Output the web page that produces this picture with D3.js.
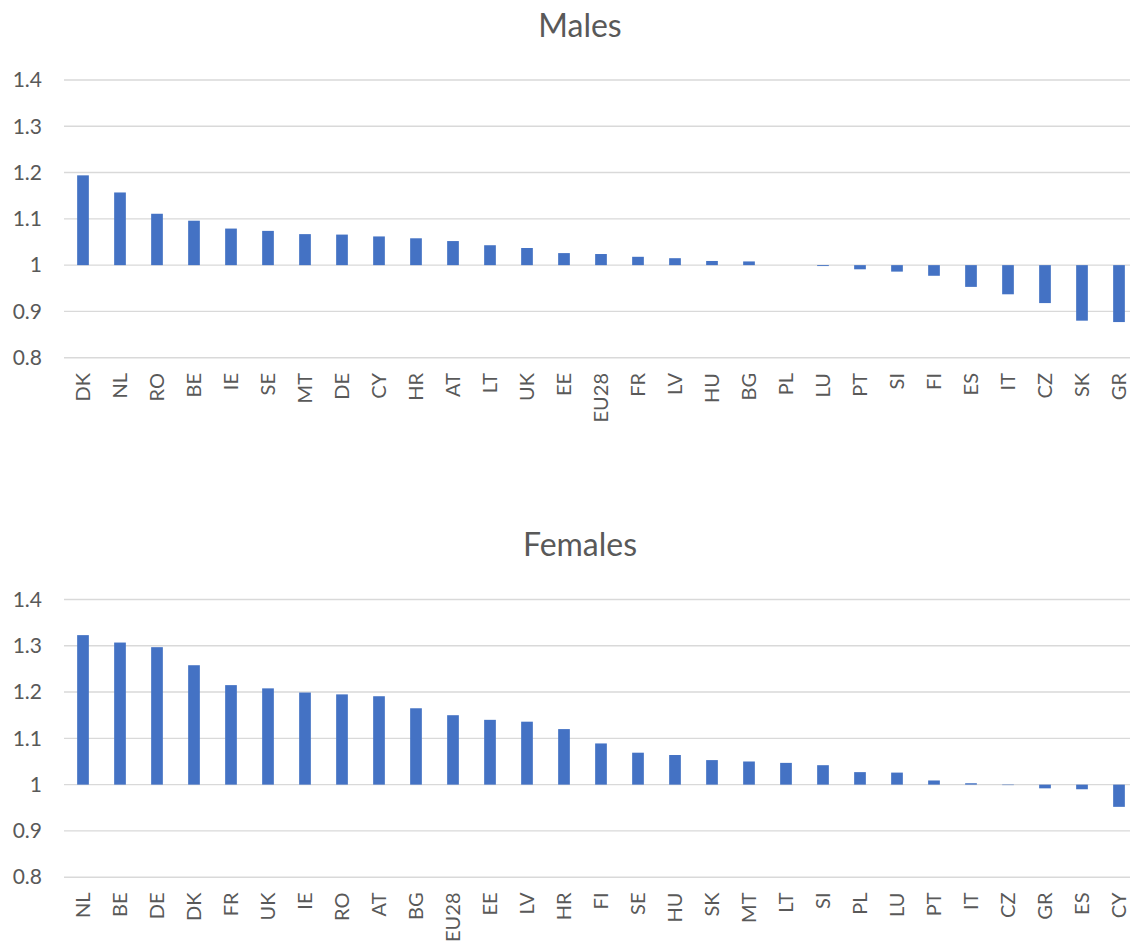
<!DOCTYPE html>
<html>
<head>
<meta charset="utf-8">
<script src="https://cdn.jsdelivr.net/npm/d3@7"></script>
<style>
  html, body { margin: 0; padding: 0; background: #fff; }
  svg { display: block; font-family: Lato, "Open Sans", sans-serif; }
</style>
</head>
<body>
<svg id="chart" width="1130" height="942"></svg>
<script>
const maleCategories = ["DK","NL","RO","BE","IE","SE","MT","DE","CY","HR","AT","LT","UK","EE","EU28","FR","LV","HU","BG","PL","LU","PT","SI","FI","ES","IT","CZ","SK","GR"];
const maleValues = [1.194,1.157,1.111,1.096,1.079,1.074,1.067,1.066,1.062,1.058,1.052,1.043,1.037,1.026,1.024,1.018,1.015,1.009,1.008,1.000,0.998,0.991,0.986,0.977,0.953,0.937,0.918,0.880,0.877];

const femaleCategories = ["NL","BE","DE","DK","FR","UK","IE","RO","AT","BG","EU28","EE","LV","HR","FI","SE","HU","SK","MT","LT","SI","PL","LU","PT","IT","CZ","GR","ES","CY"];
const femaleValues = [1.323,1.307,1.297,1.258,1.215,1.208,1.199,1.195,1.191,1.165,1.150,1.140,1.136,1.120,1.089,1.069,1.064,1.053,1.050,1.047,1.042,1.027,1.026,1.009,1.003,0.999,0.992,0.990,0.952];

const yTicks = [0.8, 0.9, 1.0, 1.1, 1.2, 1.3, 1.4];
const titles = ["Males", "Females"];

const svg = d3.select("#chart");
const barColor = "#4472C4";
const gridColor = "#d9d9d9";
const textColor = "#595959";

function panel(title, cats, vals, offsetY) {
  const g = svg.append("g").attr("transform", `translate(0,${offsetY})`);
  const x = d3.scaleBand().domain(cats).range([64.5, 1137.5]).paddingInner(0.684).paddingOuter(0.342);
  const y = d3.scaleLinear().domain([0.8, 1.4]).range([357.7, 80]);

  g.append("text")
    .attr("x", 580).attr("y", 36.5)
    .attr("text-anchor", "middle")
    .attr("font-size", 32)
    .attr("fill", textColor)
    .text(title);

  // gridlines
  g.append("g").selectAll("line").data(yTicks).join("line")
    .attr("x1", 64).attr("x2", 1140)
    .attr("y1", d => y(d)).attr("y2", d => y(d))
    .attr("stroke", gridColor).attr("stroke-width", 1.4);

  // y axis labels
  const yAxis = d3.axisLeft(y).tickValues(yTicks).tickSize(0).tickPadding(0)
    .tickFormat(d => d === 1 ? "1" : d3.format(".1f")(d));
  const ya = g.append("g").attr("transform", "translate(42,0)").call(yAxis);
  ya.select(".domain").remove();
  ya.selectAll("text").attr("font-size", 21).attr("fill", textColor)
    .attr("font-family", "Lato, 'Open Sans', sans-serif");

  // bars
  g.append("g").selectAll("rect").data(cats.map((c, i) => ({c, v: vals[i]}))).join("rect")
    .attr("x", d => x(d.c))
    .attr("width", x.bandwidth())
    .attr("y", d => Math.min(y(d.v), y(1)))
    .attr("height", d => Math.max(Math.abs(y(d.v) - y(1)), 0))
    .attr("fill", barColor);

  // x axis labels
  const xAxis = d3.axisBottom(x).tickSize(0).tickPadding(0);
  const xa = g.append("g").attr("transform", "translate(0,373)").call(xAxis);
  xa.select(".domain").remove();
  xa.selectAll("text")
    .attr("font-size", 20).attr("fill", textColor)
    .attr("font-family", "Lato, 'Open Sans', sans-serif")
    .attr("text-anchor", "end")
    .attr("transform", "rotate(-90)")
    .attr("x", 0).attr("y", 0).attr("dy", "0.36em");
}

panel(titles[0], maleCategories, maleValues, 0);
panel(titles[1], femaleCategories, femaleValues, 519.5);
</script>
</body>
</html>
